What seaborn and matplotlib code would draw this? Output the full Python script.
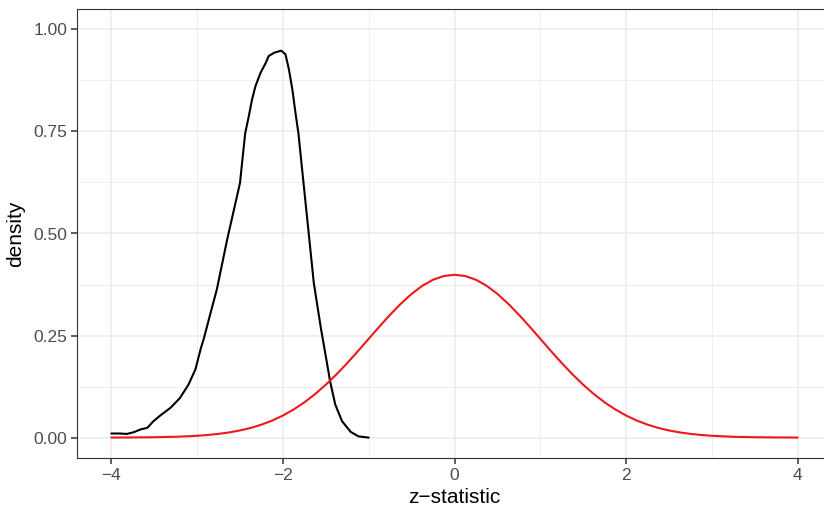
import numpy as np
import pandas as pd
import matplotlib
matplotlib.use("Agg")
import matplotlib.pyplot as plt
import seaborn as sns

obs_z = [-4.00, -3.90, -3.82, -3.74, -3.66, -3.58, -3.51, -3.43, -3.31, -3.20,
         -3.10, -3.02, -2.96, -2.92, -2.85, -2.77, -2.65, -2.57, -2.50, -2.47,
         -2.44, -2.40, -2.36, -2.32, -2.26, -2.20, -2.165, -2.10, -2.02, -1.97,
         -1.93, -1.89, -1.85, -1.82, -1.76, -1.70, -1.64, -1.555, -1.50, -1.45,
         -1.39, -1.31, -1.21, -1.12, -1.00]
obs_density = [0.010, 0.010, 0.009, 0.013, 0.020, 0.024, 0.040, 0.054, 0.073, 0.097,
               0.130, 0.167, 0.216, 0.244, 0.300, 0.363, 0.485, 0.559, 0.624, 0.685,
               0.745, 0.785, 0.828, 0.861, 0.894, 0.918, 0.935, 0.943, 0.948, 0.939,
               0.902, 0.853, 0.790, 0.747, 0.624, 0.502, 0.379, 0.265, 0.199, 0.138,
               0.081, 0.040, 0.014, 0.003, 0.000]

# null density (red)
null_z = [-4.0, -3.75, -3.5, -3.25, -3.0, -2.875, -2.75, -2.625, -2.5, -2.375,
          -2.25, -2.125, -2.0, -1.875, -1.75, -1.625, -1.5, -1.375, -1.25, -1.125,
          -1.0, -0.875, -0.75, -0.625, -0.5, -0.375, -0.25, -0.125, 0.0,
          0.125, 0.25, 0.375, 0.5, 0.625, 0.75, 0.875, 1.0, 1.125, 1.25, 1.375,
          1.5, 1.625, 1.75, 1.875, 2.0, 2.125, 2.25, 2.375, 2.5, 2.625, 2.75,
          2.875, 3.0, 3.25, 3.5, 3.75, 4.0]
null_density = [0.0001, 0.0004, 0.0009, 0.0020, 0.0044, 0.0064, 0.0091, 0.0127, 0.0175, 0.0237,
                0.0317, 0.0417, 0.0540, 0.0689, 0.0863, 0.1066, 0.1295, 0.1551, 0.1826, 0.2119,
                0.2420, 0.2721, 0.3011, 0.3281, 0.3521, 0.3719, 0.3867, 0.3958, 0.3989,
                0.3958, 0.3867, 0.3719, 0.3521, 0.3281, 0.3011, 0.2721, 0.2420, 0.2119, 0.1826, 0.1551,
                0.1295, 0.1066, 0.0863, 0.0689, 0.0540, 0.0417, 0.0317, 0.0237, 0.0175, 0.0127, 0.0091,
                0.0064, 0.0044, 0.0020, 0.0009, 0.0004, 0.0001]

x_ticks = [-4, -2, 0, 2, 4]
x_ticklabels = ["\u22124", "\u22122", "0", "2", "4"]
y_ticks = [0.0, 0.25, 0.5, 0.75, 1.0]
y_ticklabels = ["0.00", "0.25", "0.50", "0.75", "1.00"]

sns.set_style("white")
plt.rcParams['font.family'] = ['Liberation Sans', 'DejaVu Sans']

fig = plt.figure(figsize=(8.24, 5.08), dpi=100)
# panel runs past the right edge of the image, like the reference
ax = fig.add_axes([77 / 824, 1 - 458 / 508, (832 - 77) / 824, (458 - 9) / 508])

obs = pd.DataFrame({"z": obs_z, "density": obs_density})
null = pd.DataFrame({"z": null_z, "density": null_density})
sns.lineplot(data=obs, x="z", y="density", color="black", lw=1.5, ax=ax, sort=False)
sns.lineplot(data=null, x="z", y="density", color="#F0171C", lw=1.5, ax=ax, sort=False)

ax.set_xlim(-4.4, 4.4)
ax.set_ylim(-0.05, 1.05)
ax.set_xticks(x_ticks)
ax.set_xticklabels(x_ticklabels)
ax.set_yticks(y_ticks)
ax.set_yticklabels(y_ticklabels)
ax.set_xticks([-3, -1, 1, 3], minor=True)
ax.set_yticks([0.125, 0.375, 0.625, 0.875], minor=True)
ax.grid(True, which="major", color="#EBEBEB", lw=1.1)
ax.grid(True, which="minor", color="#EBEBEB", lw=0.6)
ax.set_axisbelow(True)
for s in ax.spines.values():
    s.set_color("#333333")
    s.set_linewidth(0.8)
ax.tick_params(which="major", direction="out", length=4, width=1.1, color="#333333",
               labelsize=12.5, labelcolor="#4D4D4D", pad=3, bottom=True, left=True)
ax.tick_params(which="minor", length=0)
ax.set_xlabel("z\u2212statistic", fontsize=15, color="black", labelpad=4)
ax.set_ylabel("density", fontsize=15, color="black", labelpad=6)

fig.savefig("out.png", dpi=100)
